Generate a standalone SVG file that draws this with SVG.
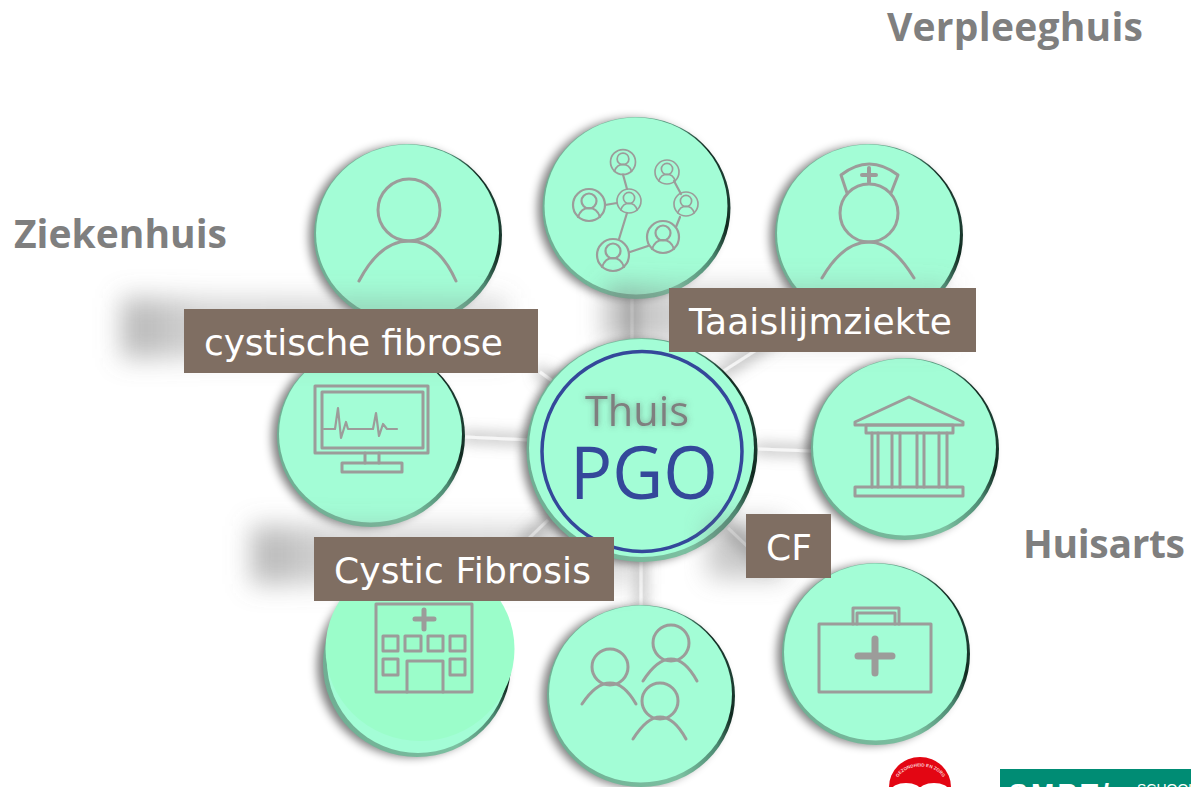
<svg xmlns="http://www.w3.org/2000/svg" width="1191" height="787" viewBox="0 0 1191 787">
<style>
.ic{fill:none;stroke:#9c9c9a;stroke-width:3;stroke-linecap:round;stroke-linejoin:round}
.ic2{fill:none;stroke:#9c9c9a;stroke-width:7;stroke-linecap:round}
.thin{stroke-width:2.2}
.face{fill:#a3fdd6}
.wire{stroke:#f6f6f6;stroke-width:3;fill:none}
.lab{fill:#7f6e62}
.lt{font-family:"DejaVu Sans",Verdana,sans-serif;font-size:36px;fill:#fff}
.hd{font-family:"Open Sans","Noto Sans",sans-serif;font-weight:700;font-size:39px;fill:#7f7f7f}
.sh{fill:url(#shg)}
</style>
<defs>
<filter id="b5" x="-20%" y="-20%" width="140%" height="140%"><feGaussianBlur stdDeviation="5"/></filter>
<filter id="b14" x="-30%" y="-80%" width="160%" height="260%"><feGaussianBlur stdDeviation="13"/></filter>
<filter id="tsh" x="-20%" y="-40%" width="140%" height="180%"><feDropShadow dx="0" dy="0" stdDeviation="3" flood-color="#555" flood-opacity=".55"/></filter>
<filter id="glow" filterUnits="userSpaceOnUse" x="0" y="0" width="1191" height="787">
<feMorphology in="SourceAlpha" operator="dilate" radius="4" result="m"/>
<feGaussianBlur in="m" stdDeviation="7" result="g"/>
<feFlood flood-color="#888" flood-opacity=".5"/>
<feComposite in2="g" operator="in" result="s"/>
<feMerge><feMergeNode in="s"/><feMergeNode in="SourceGraphic"/></feMerge>
</filter>
<linearGradient id="rim" x1="0" y1="0.62" x2="1" y2="0.38">
<stop offset="0" stop-color="#6fae93"/><stop offset=".6" stop-color="#7cc0a1"/><stop offset=".82" stop-color="#4c8a72"/><stop offset=".93" stop-color="#10281f"/><stop offset="1" stop-color="#22463a"/>
</linearGradient>
<linearGradient id="shg" x1="0" y1="0" x2="1" y2="0">
<stop offset="0" stop-color="#777" stop-opacity=".55"/><stop offset=".2" stop-color="#777" stop-opacity=".32"/><stop offset="1" stop-color="#777" stop-opacity=".26"/>
</linearGradient>
<g id="disc">
<ellipse cx="-6" cy="1" rx="93" ry="90" fill="#000" opacity=".5" filter="url(#b5)"/>
<ellipse rx="94" ry="91" fill="url(#rim)"/>
<ellipse cx="-0.500" cy="-2" rx="91.500" ry="88.500" class="face"/>
</g>
<g id="av">
<circle r="16" class="ic thin"/>
<circle cy="-4" r="7.500" class="ic thin"/>
<path d="M-11 12Q-8 3 0 3Q8 3 11 12" class="ic thin"/>
</g>
</defs>
<rect width="1191" height="787" fill="#fff"/>

<g id="connectors" filter="url(#glow)">
<path class="wire" d="M632 298V342"/>
<path class="wire" d="M465 437L530 440"/>
<path class="wire" d="M758 449L812 451"/>
<path class="wire" d="M641 562V606"/>
<path class="wire" d="M722 372L772 340"/>
<path class="wire" d="M540 372L562 388"/>
<path class="wire" d="M522 545L548 520"/>
<path class="wire" d="M728 528L768 566"/>
</g>

<g id="node-person">
<use href="#disc" x="408" y="235"/>
<circle cx="409" cy="210" r="31" class="ic"/>
<path class="ic" d="M359 281Q380 241 409 241Q438 241 456 281"/>
</g>

<g id="node-network">
<use href="#disc" x="636.500" y="208"/>
<path class="ic thin" d="M623 174.500L627 189M605 205L617 203M627 213L619 239M630 252L648 246M676 227L680 217M674 181L681 194"/>
<use href="#av" transform="translate(623 162) scale(.78)"/>
<use href="#av" transform="translate(667 172) scale(.75)"/>
<use href="#av" transform="translate(629 201) scale(.75)"/>
<use href="#av" transform="translate(589 205)"/>
<use href="#av" transform="translate(686 204) scale(.75)"/>
<use href="#av" transform="translate(663 237)"/>
<use href="#av" transform="translate(613 255)"/>
</g>

<g id="node-nurse">
<use href="#disc" x="869" y="235"/>
<circle cx="869" cy="213" r="29" class="ic"/>
<path class="ic" d="M822 278Q843 242 869 242Q892 242 914 278"/>
<path class="ic" d="M847 193L841 175Q869 153 898 175L891 193"/>
<path class="ic" style="stroke-width:4" d="M862 175H876M869 168V182"/>
</g>

<g id="node-monitor">
<use href="#disc" x="371" y="436"/>
<rect x="315" y="386" width="113" height="67" class="ic"/>
<rect x="322" y="392" width="101" height="56" class="ic"/>
<path class="ic" d="M365 453V463M379 453V463"/>
<rect x="342" y="463" width="60" height="9" class="ic"/>
<path class="ic thin" d="M324 429H335L338 408L341 438L346 422L348 429H373L376 413L379 436L383 424L387 429H397"/>
</g>

<g id="node-bank">
<use href="#disc" x="905" y="449"/>
<path class="ic" d="M855 422L909 397L963 422V425H855Z"/>
<rect x="866" y="425" width="87" height="8" class="ic"/>
<path class="ic" d="M872 433V487M878 433V487M892 433V487M900 433V487M917 433V487M924 433V487M939 433V487M947 433V487"/>
<rect x="855" y="487" width="108" height="9" class="ic"/>
</g>

<g id="node-kit">
<use href="#disc" x="876" y="654"/>
<rect x="819" y="624" width="112" height="68" class="ic"/>
<path class="ic" d="M853 624V608H899V624M857 624V613H895V624"/>
<path class="ic2" d="M858 656H892M875 639V673"/>
</g>

<g id="node-people">
<use href="#disc" x="641" y="696"/>
<circle cx="610" cy="667" r="18" class="ic"/>
<path class="ic" d="M582 704Q596 683 610 683Q624 683 636 704"/>
<circle cx="671" cy="643" r="18" class="ic"/>
<path class="ic" d="M643 681Q657 659 671 659Q685 659 697 681"/>
<circle cx="660" cy="701" r="18" class="ic"/>
<path class="ic" d="M633 739Q647 717 660 717Q674 717 686 739"/>
</g>

<g id="shadows">
<rect class="sh" x="122" y="298" width="385" height="60" filter="url(#b14)"/>
<rect class="sh" x="606" y="286" width="345" height="58" filter="url(#b14)"/>
<rect class="sh" x="252" y="526" width="385" height="58" filter="url(#b14)"/>
</g>

<g id="node-center">
<ellipse cx="636" cy="452" rx="114" ry="111" fill="#000" opacity=".5" filter="url(#b5)"/>
<ellipse cx="642" cy="450" rx="115.500" ry="112" fill="url(#rim)"/>
<ellipse cx="641.500" cy="448" rx="112.500" ry="109" class="face"/>
<text x="585" y="426" font-family="'Open Sans','Noto Sans',sans-serif" font-size="41.500" fill="#7f7f7f" filter="url(#tsh)">Thuis</text>
<text x="570" y="499" font-family="'Open Sans','Noto Sans',sans-serif" font-size="74" fill="#34489a" textLength="148" lengthAdjust="spacingAndGlyphs">PGO</text>
<circle cx="642" cy="451.500" r="100" fill="none" stroke="#34489a" stroke-width="3.500"/>
</g>

<g id="node-hospital">
<ellipse cx="411" cy="666" rx="94" ry="91" fill="#000" opacity=".5" filter="url(#b5)"/>
<ellipse cx="417" cy="664" rx="94" ry="93" fill="url(#rim)"/>
<ellipse cx="418" cy="661" rx="91" ry="92" class="face"/>
<ellipse cx="420" cy="649" rx="94.500" ry="92" fill="#9bfdca"/>
<rect x="376" y="604" width="96" height="88" class="ic"/>
<path class="ic2" style="stroke-width:5" d="M415 619H434M424 610V629"/>
<path class="ic" d="M383 636h15v15h-15zM405 636h16v15h-16zM428 636h15v15h-15zM450 636h15v15h-15zM383 659h15v16h-15zM450 659h15v16h-15zM407 692V661H443V692"/>
</g>

<g id="shadow-cf">
<rect x="708" y="520" width="78" height="58" fill="#777" opacity=".4" filter="url(#b14)"/>
</g>

<g id="label-cystische">
<rect class="lab" x="184" y="309" width="354" height="64"/>
<text class="lt" x="204" y="355" textLength="299">cystische fibrose</text>
</g>
<g id="label-taai">
<rect class="lab" x="669" y="288" width="307" height="64"/>
<text class="lt" x="689" y="334" textLength="263">Taaislijmziekte</text>
</g>
<g id="label-cystic">
<rect class="lab" x="314" y="537" width="300" height="64"/>
<text class="lt" x="334" y="583" textLength="257">Cystic Fibrosis</text>
</g>
<g id="label-cf">
<rect class="lab" x="746" y="514" width="85" height="64"/>
<text class="lt" x="766" y="560">CF</text>
</g>

<g id="heading-verpleeghuis"><text class="hd" x="887" y="41" textLength="256">Verpleeghuis</text></g>
<g id="heading-ziekenhuis"><text class="hd" x="14" y="248" textLength="213">Ziekenhuis</text></g>
<g id="heading-huisarts"><text class="hd" x="1023" y="558" textLength="162">Huisarts</text></g>

<g id="logo-red">
<path d="M889 787A31 30 0 0 1 951 787Z" fill="#e30613"/>
<ellipse cx="906" cy="791" rx="15" ry="8" fill="#fff"/>
<ellipse cx="934" cy="791" rx="15" ry="8" fill="#fff"/>
<path id="arc" d="M897 780A24 17 0 0 1 944 780" fill="none"/>
<text font-family="'Liberation Sans',sans-serif" font-size="4.500" font-weight="700" fill="#fbd5d5" text-anchor="middle"><textPath href="#arc" startOffset="50%">GEZONDHEID EN ZORG</textPath></text>
</g>
<g id="logo-green">
<rect x="1000" y="769" width="191" height="18" fill="#008c74"/>
<text x="1009" y="803" font-family="'Liberation Sans',sans-serif" font-weight="700" font-size="28" fill="#fff" textLength="100">SMBT/</text>
<text x="1137" y="794" font-family="'Liberation Sans',sans-serif" font-size="14" fill="#fff">SCHOOL</text>
</g>
</svg>
